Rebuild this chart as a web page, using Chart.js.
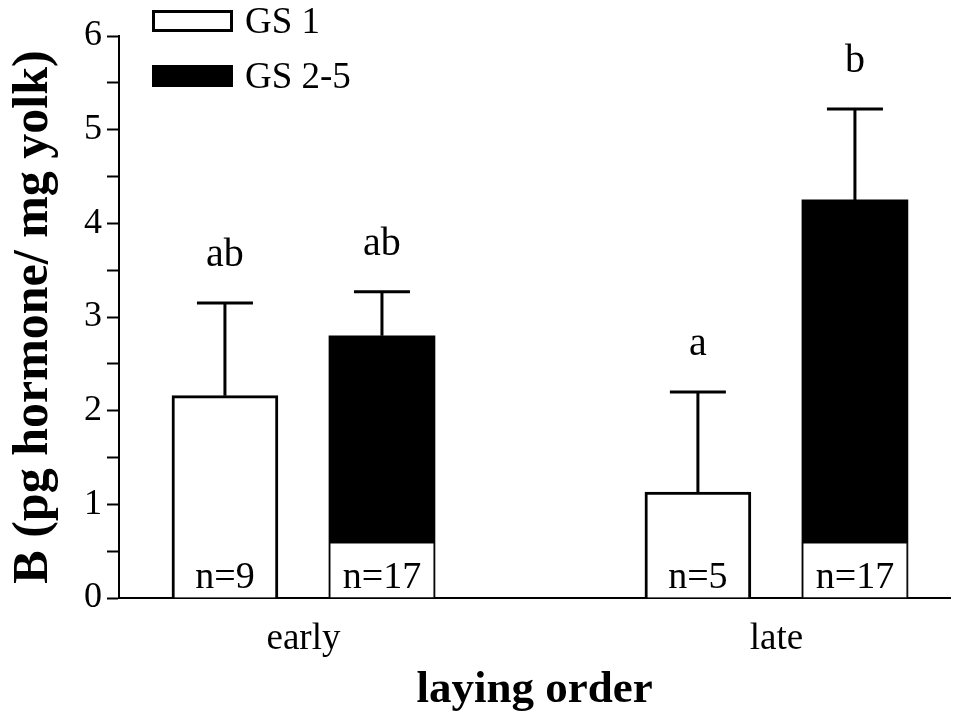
<!DOCTYPE html>
<html>
<head>
<meta charset="utf-8">
<script src="https://cdn.jsdelivr.net/npm/chart.js@4.4.1/dist/chart.umd.min.js"></script>
<style>
  html, body { margin: 0; padding: 0; background: #fff; }
</style>
</head>
<body>
<canvas id="yolkChart" width="954" height="722"></canvas>
<script>
// laying order groups, B concentration (pg hormone / mg yolk) per gonad stage
const groups = ['early', 'late'];
const gs1Mean = [2.16, 1.13];
const gs1Err = [0.99, 1.07];
const gs25Mean = [2.80, 4.25];
const gs25Err = [0.47, 0.97];
const gs1N = [9, 5];
const gs25N = [17, 17];
const gs1Letters = ['ab', 'a'];
const gs25Letters = ['ab', 'b'];

const serif = "'Liberation Serif', 'Times New Roman', serif";
Chart.defaults.font.family = serif;
Chart.defaults.color = '#000';

// bars sit either side of the group centre on a linear x scale
const barShift = 0.166;
const nBoxTop = 0.59;

// error bars, significance letters and the n= boxes
const marksPlugin = {
  id: 'yolkMarks',
  afterDatasetsDraw(chart) {
    const ctx = chart.ctx;
    const y = chart.scales.y;
    ctx.save();
    chart.data.datasets.forEach((ds, di) => {
      const meta = chart.getDatasetMeta(di);
      meta.data.forEach((bar, i) => {
        const top = y.getPixelForValue(ds.data[i].y + ds.errors[i]);
        ctx.strokeStyle = '#000';
        ctx.lineWidth = 3;
        ctx.beginPath();
        ctx.moveTo(bar.x, bar.y);
        ctx.lineTo(bar.x, top);
        ctx.moveTo(bar.x - 28, top);
        ctx.lineTo(bar.x + 28, top);
        ctx.stroke();

        ctx.fillStyle = '#000';
        ctx.font = '40px ' + serif;
        ctx.textAlign = 'center';
        ctx.textBaseline = 'alphabetic';
        ctx.fillText(ds.letters[i], bar.x, top - 37);

        const base = y.getPixelForValue(0);
        if (ds.nBox) {
          const boxTop = y.getPixelForValue(nBoxTop);
          const w = bar.width;
          ctx.fillStyle = '#fff';
          ctx.fillRect(bar.x - w / 2, boxTop, w, base - boxTop);
          ctx.lineWidth = 1.5;
          ctx.strokeRect(bar.x - w / 2 + 0.75, boxTop, w - 1.5, base - boxTop);
        }
        ctx.fillStyle = '#000';
        ctx.font = '38px ' + serif;
        ctx.fillText('n=' + ds.counts[i], bar.x, base - 10);
      });
    });
    ctx.restore();
  },
  afterDraw(chart) {
    // legend in the top left corner
    const ctx = chart.ctx;
    ctx.save();
    chart.data.datasets.forEach((ds, k) => {
      const top = 10 + k * 55;
      ctx.fillStyle = ds.backgroundColor;
      ctx.fillRect(152, top, 81, 22);
      ctx.strokeStyle = '#000';
      ctx.lineWidth = 3;
      ctx.strokeRect(153.5, top + 1.5, 78, 19);
      ctx.fillStyle = '#000';
      ctx.font = '37px ' + serif;
      ctx.textAlign = 'left';
      ctx.textBaseline = 'middle';
      ctx.fillText(ds.label, 245, top + 13);
    });
    ctx.restore();
  }
};

new Chart(document.getElementById('yolkChart'), {
  type: 'bar',
  data: {
    datasets: [
      {
        label: 'GS 1',
        data: gs1Mean.map((v, i) => ({ x: i - barShift, y: v })),
        errors: gs1Err,
        letters: gs1Letters,
        counts: gs1N,
        nBox: false,
        backgroundColor: '#fff',
        borderColor: '#000',
        borderWidth: 3,
        stack: 'bars',
        barThickness: 106
      },
      {
        label: 'GS 2-5',
        data: gs25Mean.map((v, i) => ({ x: i + barShift, y: v })),
        errors: gs25Err,
        letters: gs25Letters,
        counts: gs25N,
        nBox: true,
        backgroundColor: '#000',
        borderColor: '#000',
        borderWidth: 0,
        stack: 'bars',
        barThickness: 106
      }
    ]
  },
  options: {
    responsive: false,
    animation: false,
    devicePixelRatio: 1,
    layout: { padding: { top: 36, right: 4, left: 0, bottom: 0 } },
    plugins: { legend: { display: false }, tooltip: { enabled: false } },
    scales: {
      x: {
        type: 'linear',
        min: -0.39,
        max: 1.367,
        offset: false,
        grid: { display: true, drawOnChartArea: false, drawTicks: false, offset: false },
        border: { display: true, color: '#000', width: 2 },
        afterBuildTicks: (s) => { s.ticks = groups.map((g, i) => ({ value: i })); },
        afterFit: (s) => { s.height = 124; },
        ticks: {
          callback: (v) => groups[v] ?? '',
          font: { size: 37 },
          padding: 19,
          maxRotation: 0,
          autoSkip: false
        },
        title: {
          display: true,
          text: 'laying order',
          font: { size: 45, weight: 'bold' },
          padding: { top: 0, bottom: 5 }
        }
      },
      y: {
        min: 0,
        max: 6,
        stacked: false,
        afterFit: (s) => { s.width = 119; },
        ticks: {
          stepSize: 0.5,
          callback: (v) => Number.isInteger(v) ? v : '',
          font: { size: 36 },
          padding: 5
        },
        grid: { drawOnChartArea: false, drawTicks: true, tickLength: 12, tickWidth: 2, tickColor: '#000' },
        border: { color: '#000', width: 2 },
        title: {
          display: true,
          text: 'B (pg hormone/ mg yolk)',
          font: { size: 50, weight: 'bold' },
          padding: { top: 4, bottom: 0 }
        }
      }
    }
  },
  plugins: [marksPlugin]
});
</script>
</body>
</html>
